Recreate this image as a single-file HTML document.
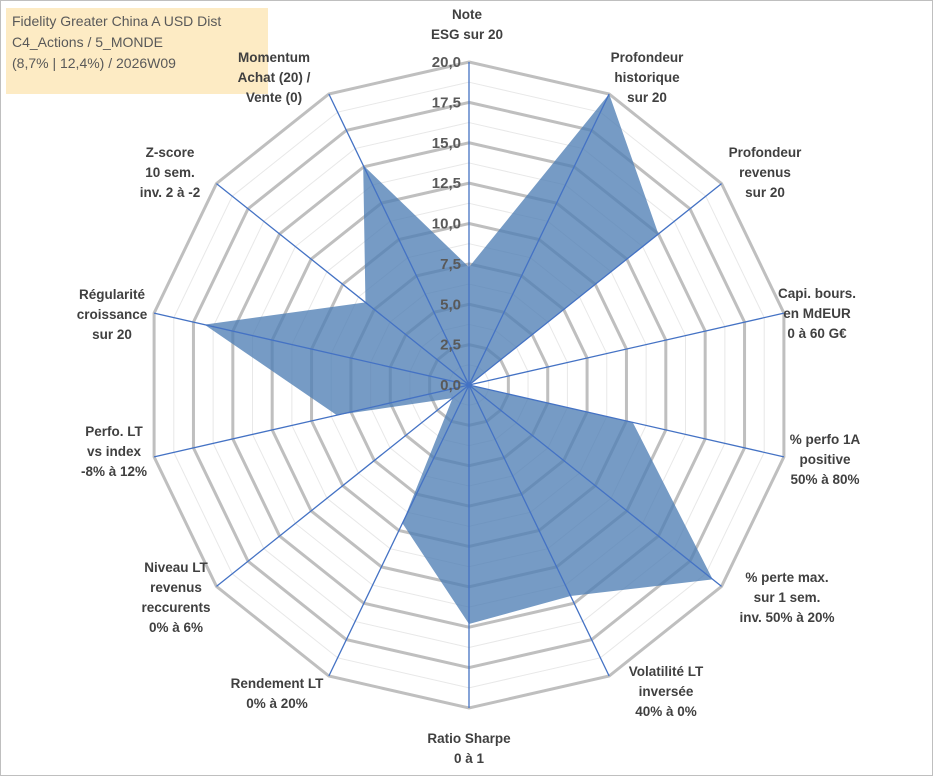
<!DOCTYPE html>
<html><head><meta charset="utf-8"><style>
body{margin:0;background:#fff;}
#wrap{position:relative;width:933px;height:776px;overflow:hidden;font-family:"Liberation Sans",Arial,sans-serif;}
.lbl{position:absolute;transform:translate(-50%,-50%);text-align:center;font-weight:bold;font-size:13.5px;line-height:20px;color:#404040;white-space:nowrap;}
#title{position:absolute;left:6px;top:8px;width:262px;height:86px;background:#fdebc4;color:#595959;font-size:14px;line-height:21px;padding:3px 6px;box-sizing:border-box;}
</style></head><body>
<div id="wrap">
<svg id="svg" width="933" height="776" style="position:absolute;left:0;top:0">
<rect x="0.5" y="0.5" width="932" height="775" fill="#fff" stroke="#bfbfbf"/>
</svg>
<div id="title">Fidelity Greater China A USD Dist<br>C4_Actions / 5_MONDE<br>(8,7% | 12,4%) / 2026W09</div>
</div>
<script>
const categories=["Note\nESG sur 20","Profondeur\nhistorique\nsur 20","Profondeur\nrevenus\nsur 20","Capi. bours.\nen MdEUR\n0 à 60 G€","% perfo 1A\npositive\n50% à 80%","% perte max.\nsur 1 sem.\ninv. 50% à 20%","Volatilité LT\ninversée\n40% à 0%","Ratio Sharpe\n0 à 1","Rendement LT\n0% à 20%","Niveau LT\nrevenus\nreccurents\n0% à 6%","Perfo. LT\nvs index\n-8% à 12%","Régularité\ncroissance\nsur 20","Z-score\n10 sem.\ninv. 2 à -2","Momentum\nAchat (20) /\nVente (0)"];
const values=[7.3,20,15,0,10.4,19.3,14.5,14.8,9.5,1.3,8.4,16.8,8.2,15.1];
const tickLabels=["0,0","2,5","5,0","7,5","10,0","12,5","15,0","17,5","20,0"];
const labelPos=[[467,25],[647,78],[765,173],[817,314],[825,460],[787,598],[666,692],[469,749],[277,694],[176,598],[114,452],[112,315],[170,173],[274,78]];
const cx=469,cy=385,R=323,maxV=20,N=categories.length;
const svg=document.getElementById('svg'),wrap=document.getElementById('wrap');
const NS='http://www.w3.org/2000/svg';
function ang(i){return -Math.PI/2+i*2*Math.PI/N;}
function pt(i,v){const r=v/maxV*R;return [cx+r*Math.cos(ang(i)),cy+r*Math.sin(ang(i))];}
function ring(v,stroke,w,name){const p=document.createElementNS(NS,'polygon');
p.setAttribute('points',categories.map((c,i)=>pt(i,v).join(',')).join(' '));
p.setAttribute('fill','none');p.setAttribute('stroke',stroke);p.setAttribute('stroke-width',w);


svg.appendChild(p);}
for(let v=1.25;v<20;v+=2.5)ring(v,'#e8e8e8',1,'minor-gridline');
for(let k=1;k<tickLabels.length;k++)ring(k*2.5,'#bfbfbf',3,'major-gridline');
const poly=document.createElementNS(NS,'polygon');
poly.setAttribute('points',values.map((v,i)=>pt(i,v).join(',')).join(' '));
poly.setAttribute('fill','#4f7fb5');poly.setAttribute('fill-opacity','0.78');


svg.appendChild(poly);
categories.forEach((c,i)=>{const l=document.createElementNS(NS,'line');const e=pt(i,maxV);
l.setAttribute('x1',cx);l.setAttribute('y1',cy);l.setAttribute('x2',e[0]);l.setAttribute('y2',e[1]);
l.setAttribute('stroke','#4472c4');l.setAttribute('stroke-width','1.3');


svg.appendChild(l);
const d=document.createElement('div');d.className='lbl';
d.style.left=labelPos[i][0]+'px';d.style.top=labelPos[i][1]+'px';
d.innerHTML=c.split('\n').join('<br>');


wrap.appendChild(d);});
tickLabels.forEach((t,k)=>{const tx=document.createElementNS(NS,'text');
tx.setAttribute('x',cx-8);tx.setAttribute('y',cy-k*2.5/maxV*R+5);
tx.setAttribute('text-anchor','end');tx.setAttribute('font-family','Liberation Sans, Arial, sans-serif');
tx.setAttribute('font-size','15');tx.setAttribute('font-weight','bold');tx.setAttribute('fill','#595959');
tx.textContent=t;


svg.appendChild(tx);});
</script>
</body></html>
